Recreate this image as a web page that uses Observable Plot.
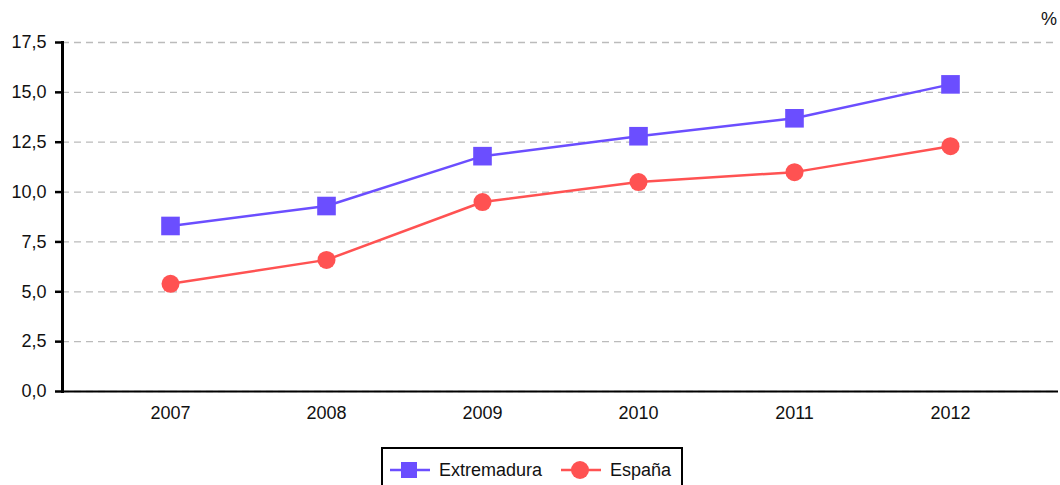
<!DOCTYPE html>
<html>
<head>
<meta charset="utf-8">
<script src="https://cdn.jsdelivr.net/npm/d3@7"></script>
<script src="https://cdn.jsdelivr.net/npm/@observablehq/plot@0.6"></script>
<style>
  body { margin: 0; background: #fff; font-family: "Liberation Sans", Arial, sans-serif; }
  #wrap { position: relative; width: 1060px; height: 485px; overflow: hidden; }
  #chart svg text { font-size: 18px; fill: #111; }
  #unit { position: absolute; left: 1041px; top: 9px; font-size: 18px; color: #111; }
  #legend { position: absolute; left: 381px; top: 447px; width: 302px; height: 50px;
            border: 2px solid #000; box-sizing: border-box; font-size: 18px; color: #111; }
  .item { position: absolute; top: 9px; display: flex; align-items: center; height: 24px; }
  .item svg { margin-right: 9px; }
</style>
</head>
<body>
<div id="wrap">
  <div id="chart"></div>
  <div id="unit">%</div>
  <div id="legend"></div>
</div>
<script>
const years = ["2007", "2008", "2009", "2010", "2011", "2012"];
const extremadura = [8.3, 9.3, 11.8, 12.8, 13.7, 15.4];
const espana = [5.4, 6.6, 9.5, 10.5, 11.0, 12.3];
const seriesNames = ["Extremadura", "España"];
const colors = ["#6b4eff", "#ff5252"];
const yTicks = [0, 2.5, 5, 7.5, 10, 12.5, 15, 17.5];

const data = [
  ...years.map((y, i) => ({year: y, value: extremadura[i], series: seriesNames[0]})),
  ...years.map((y, i) => ({year: y, value: espana[i], series: seriesNames[1]}))
];
const ext = data.filter(d => d.series === seriesNames[0]);
const esp = data.filter(d => d.series === seriesNames[1]);
const fmt = d => d.toFixed(1).replace(".", ",");

const chart = Plot.plot({
  width: 1060,
  height: 430,
  marginTop: 42,
  marginBottom: 39,
  marginLeft: 62,
  marginRight: 2,
  style: {fontFamily: "Liberation Sans, Arial, sans-serif", fontSize: "18px", color: "#111", background: "#fff"},
  x: {type: "point", domain: years, padding: 0.69, label: null},
  y: {domain: [0, 17.5], label: null},
  marks: [
    Plot.gridY(yTicks, {stroke: "#bbb", strokeOpacity: 1, strokeDasharray: "7,5", strokeWidth: 1.3}),
    Plot.axisY(yTicks, {tickFormat: fmt, tickSize: 7, tickPadding: 9, stroke: "#000", strokeWidth: 2.5, label: null}),
    Plot.axisX({tickSize: 0, tickPadding: 15, label: null}),
    Plot.ruleY([0], {stroke: "#000", strokeWidth: 2}),
    Plot.frame({anchor: "left", stroke: "#000", strokeWidth: 3}),
    Plot.line(ext, {x: "year", y: "value", stroke: colors[0], strokeWidth: 2.5}),
    Plot.line(esp, {x: "year", y: "value", stroke: colors[1], strokeWidth: 2.5}),
    Plot.dot(ext, {x: "year", y: "value", symbol: "square", r: 10.5, fill: colors[0], stroke: "none"}),
    Plot.dot(esp, {x: "year", y: "value", symbol: "circle", r: 9, fill: colors[1], stroke: "none"})
  ]
});
document.getElementById("chart").appendChild(chart);

// Legend
const legend = document.getElementById("legend");
const lefts = [7, 178];
seriesNames.forEach((name, i) => {
  const item = document.createElement("div");
  item.className = "item";
  item.style.left = lefts[i] + "px";
  const marker = i === 0
    ? `<rect x="11" y="4" width="16" height="16" fill="${colors[i]}"/>`
    : `<circle cx="19" cy="12" r="9" fill="${colors[i]}"/>`;
  item.innerHTML = `<svg width="40" height="24"><line x1="0" x2="40" y1="12" y2="12" stroke="${colors[i]}" stroke-width="2.5"/>${marker}</svg><span>${name}</span>`;
  legend.appendChild(item);
});
</script>
</body>
</html>
